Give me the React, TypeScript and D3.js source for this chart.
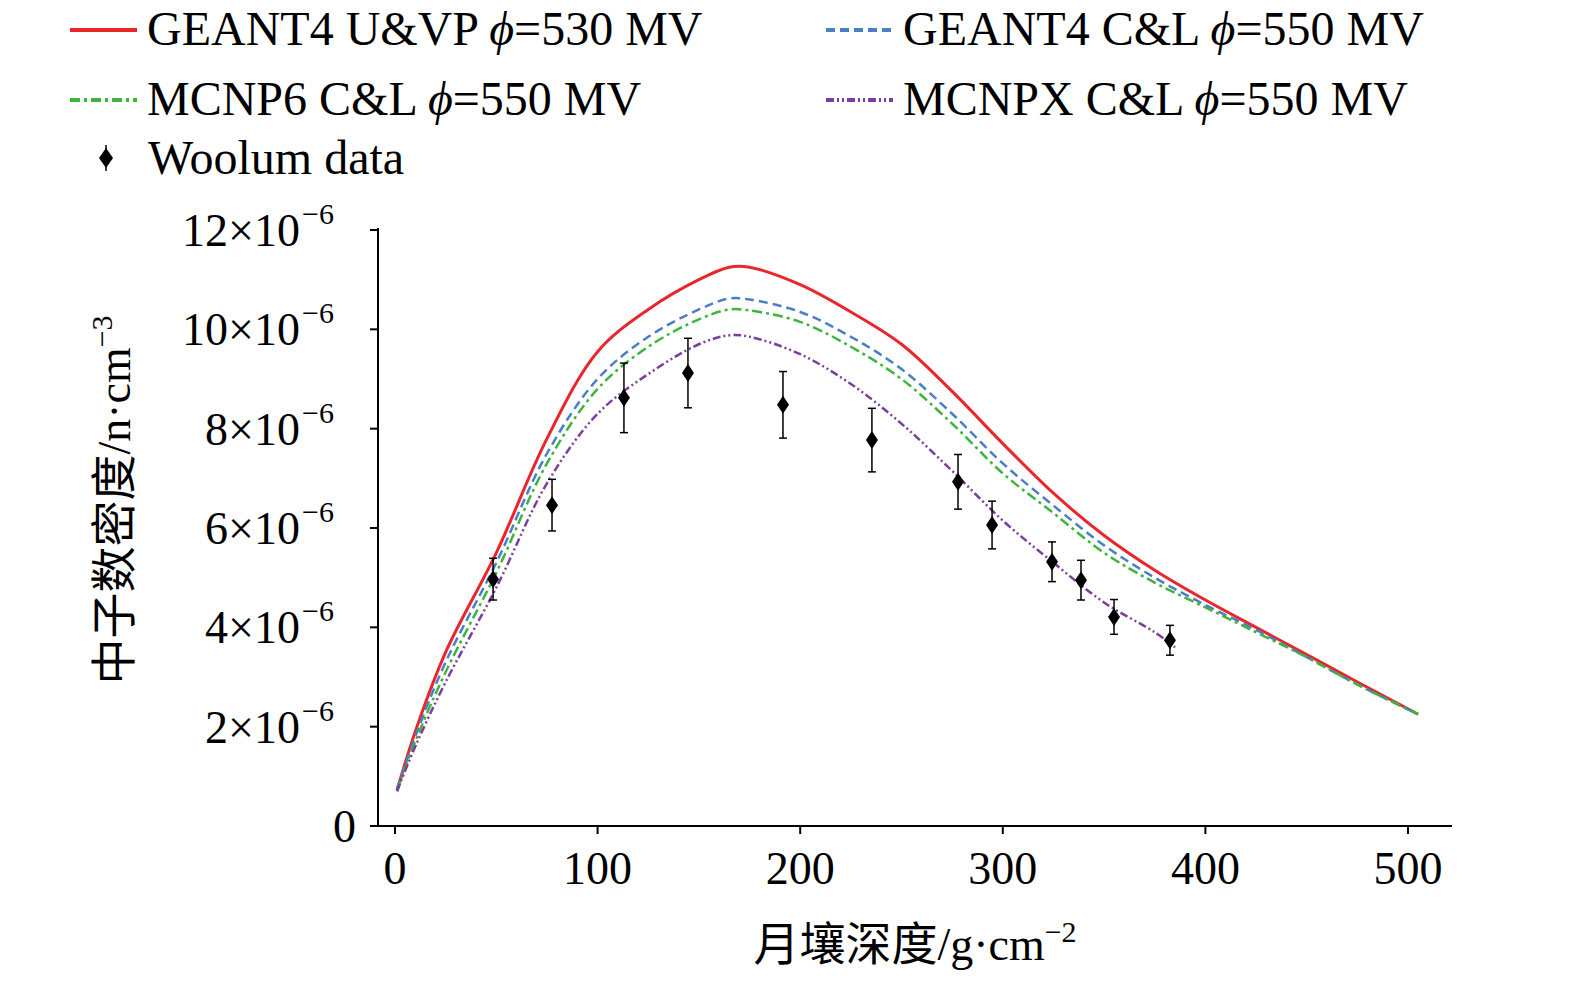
import * as d3 from 'd3';

const depthX = [1, 10, 25, 50, 75, 100, 125, 150, 165, 175, 200, 225, 250, 275, 300, 325, 350, 375, 400, 425, 450, 475, 505];
const geantUVP = [0.72, 1.9, 3.5, 5.5, 7.8, 9.55, 10.4, 11.0, 11.25, 11.25, 10.9, 10.35, 9.7, 8.75, 7.7, 6.7, 5.85, 5.15, 4.55, 4.0, 3.45, 2.9, 2.25];
const geantCL = [0.75, 1.8, 3.3, 5.3, 7.5, 9.0, 9.85, 10.4, 10.62, 10.6, 10.35, 9.85, 9.2, 8.3, 7.3, 6.45, 5.65, 5.0, 4.45, 3.95, 3.4, 2.85, 2.25];
const mcnp6CL = [0.7, 1.7, 3.1, 5.1, 7.3, 8.8, 9.65, 10.2, 10.4, 10.38, 10.15, 9.65, 9.0, 8.1, 7.1, 6.3, 5.5, 4.9, 4.4, 3.9, 3.4, 2.85, 2.25];
const mcnpxX = [1, 10, 25, 50, 75, 100, 125, 150, 165, 175, 200, 225, 250, 275, 300, 325, 350, 375, 385];
const mcnpxCL = [0.7, 1.6, 2.9, 4.8, 6.9, 8.3, 9.1, 9.7, 9.88, 9.85, 9.5, 8.9, 8.1, 7.15, 6.15, 5.3, 4.5, 3.9, 3.6];

const woolumX = [48.4, 77.5, 113, 144.6, 191.5, 235.4, 277.9, 294.7, 324.3, 338.6, 354.9, 382.5];
const woolumY = [4.97, 6.46, 8.62, 9.12, 8.48, 7.77, 6.93, 6.06, 5.32, 4.95, 4.21, 3.74];
const woolumErr = [0.42, 0.52, 0.7, 0.7, 0.67, 0.64, 0.55, 0.48, 0.4, 0.4, 0.35, 0.3];

const xTicks = [0, 100, 200, 300, 400, 500];
const yTicks = [0, 2, 4, 6, 8, 10, 12];

const serif = '"Liberation Serif", "Times New Roman", serif';
const cjk = '"Liberation Serif", "Noto Sans CJK SC", serif';

const series = [
  { name: 'GEANT4 U&VP ', phi: '530', xs: depthX, ys: geantUVP, color: '#e8262b', dash: '', w: 3 },
  { name: 'GEANT4 C&L ', phi: '550', xs: depthX, ys: geantCL, color: '#4a7fc6', dash: '9,5', w: 2.5 },
  { name: 'MCNP6 C&L ', phi: '550', xs: depthX, ys: mcnp6CL, color: '#3db53d', dash: '10,4,3,4', w: 2.5 },
  { name: 'MCNPX C&L ', phi: '550', xs: mcnpxX, ys: mcnpxCL, color: '#7a3f9e', dash: '8,3,2,3,2,3', w: 2.5 },
];
const legendPos = [[70, 27], [826, 27], [70, 97], [826, 97]];

export default function App() {
  const x = d3.scaleLinear().domain([0, 500]).range([395, 1408]);
  const y = d3.scaleLinear().domain([0, 12]).range([826, 230]);
  const line = d3.line<[number, number]>().x(d => x(d[0])).y(d => y(d[1])).curve(d3.curveCatmullRom.alpha(0.5));

  return (
    <svg width={1575} height={985} style={{ position: 'absolute', left: 0, top: 0, background: '#fff' }}>
      {series.map((s, i) => (
        <path key={i} d={line(s.xs.map((v, j) => [v, s.ys[j]] as [number, number]))!}
          fill="none" stroke={s.color} strokeWidth={s.w} strokeDasharray={s.dash} />
      ))}
      {woolumX.map((v, i) => {
        const cx = x(v), cy = y(woolumY[i]);
        const lo = y(woolumY[i] - woolumErr[i]), hi = y(woolumY[i] + woolumErr[i]);
        return (
          <g key={i}>
            <line x1={cx} x2={cx} y1={lo} y2={hi} stroke="#000" strokeWidth={1.5} />
            <line x1={cx - 4} x2={cx + 4} y1={lo} y2={lo} stroke="#000" strokeWidth={1.5} />
            <line x1={cx - 4} x2={cx + 4} y1={hi} y2={hi} stroke="#000" strokeWidth={1.5} />
            <path d={`M${cx},${cy - 9}L${cx + 6},${cy}L${cx},${cy + 9}L${cx - 6},${cy}Z`} fill="#000" />
          </g>
        );
      })}
      <line x1={378} x2={1452} y1={826} y2={826} stroke="#000" strokeWidth={2} />
      <line x1={378} x2={378} y1={228} y2={826} stroke="#000" strokeWidth={2} />
      {xTicks.map(t => (
        <g key={t}>
          <line x1={x(t)} x2={x(t)} y1={826} y2={834} stroke="#000" strokeWidth={2} />
          <text x={x(t)} y={884} textAnchor="middle" fontFamily={serif} fontSize={46}>{t}</text>
        </g>
      ))}
      {yTicks.map(t => (
        <g key={t}>
          <line x1={370} x2={378} y1={y(t)} y2={y(t)} stroke="#000" strokeWidth={2} />
          {t === 0 ? (
            <text x={356} y={y(t) + 16} textAnchor="end" fontFamily={serif} fontSize={46}>0</text>
          ) : (
            <text x={300} y={y(t) + 16} textAnchor="end" fontFamily={serif} fontSize={46}>{`${t}×10`}</text>
          )}
          {t !== 0 && (
            <text x={302} y={y(t) - 6} fontFamily={serif} fontSize={30}>−6</text>
          )}
        </g>
      ))}
      <text transform="translate(130,500) rotate(-90)" textAnchor="middle" fontFamily={cjk} fontSize={46}>
        中子数密度/n·cm<tspan dy={-18} fontSize={30}>−3</tspan>
      </text>
      <text x={915} y={960} textAnchor="middle" fontFamily={cjk} fontSize={46}>
        月壤深度/g·cm<tspan dy={-18} fontSize={30}>−2</tspan>
      </text>
      {series.map((s, i) => {
        const [lx, ly] = legendPos[i];
        return (
          <g key={i}>
            <line x1={lx} x2={lx + 67} y1={ly + 3} y2={ly + 3} stroke={s.color} strokeWidth={4} strokeDasharray={s.dash} />
            <text x={lx + 77} y={ly + 18} fontFamily={serif} fontSize={48}>
              {s.name}<tspan fontStyle="italic">ϕ</tspan>{`=${s.phi} MV`}
            </text>
          </g>
        );
      })}
      <path d="M106,148L113,158L106,168L99,158Z" fill="#000" />
      <line x1={106} x2={106} y1={145} y2={171} stroke="#000" strokeWidth={1.5} />
      <text x={148} y={174} fontFamily={serif} fontSize={48}>Woolum data</text>
    </svg>
  );
}
